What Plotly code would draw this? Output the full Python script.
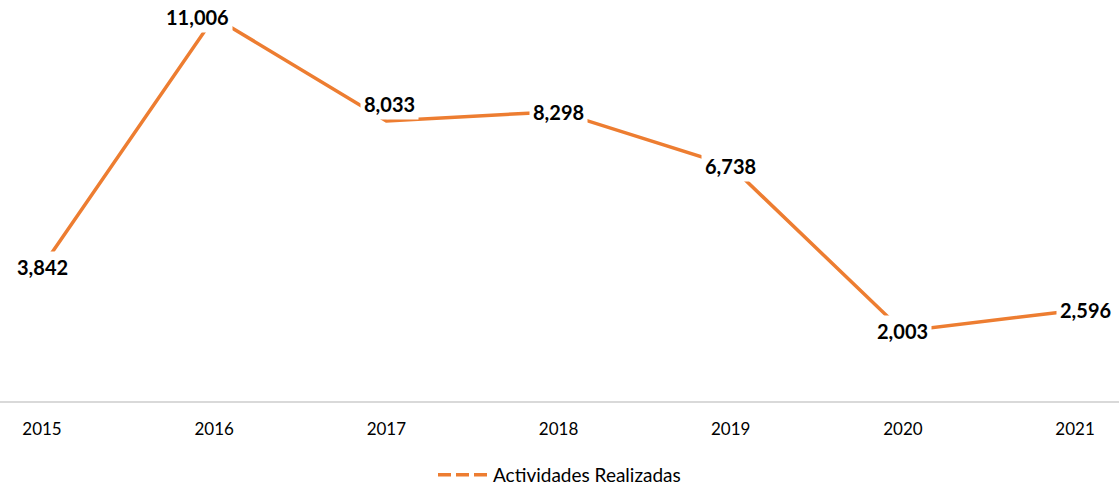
import plotly.graph_objects as go

years = ["2015", "2016", "2017", "2018", "2019", "2020", "2021"]
actividades = [3842, 11006, 8033, 8298, 6738, 2003, 2596]
series_name = "Actividades Realizadas"

ORANGE = "#ED7D31"
FONT = "Lato"

xpos = list(range(len(years)))

# label offsets (style only, in pixels)
label_shift = {"2016": (-17, 0), "2017": (3, 17), "2021": (10, 0)}

fig = go.Figure()
fig.add_trace(go.Scatter(
    x=xpos, y=actividades, mode="lines",
    line=dict(color=ORANGE, width=3.5),
    showlegend=False, hoverinfo="skip",
))
# legend entry (dashed symbol as in the reference)
fig.add_trace(go.Scatter(
    x=[None], y=[None], mode="lines", name=series_name,
    line=dict(color=ORANGE, width=3.5, dash="13px,5px"),
))

for i, (yr, v) in enumerate(zip(years, actividades)):
    dx, dy = label_shift.get(yr, (0, 0))
    fig.add_annotation(
        x=i, y=v, xref="x", yref="y", text=f"<b>{v:,}</b>", showarrow=False,
        xshift=dx, yshift=dy, bgcolor="white", borderpad=3,
        font=dict(family=FONT, size=20, color="black"),
    )

fig.update_layout(
    width=1119, height=489,
    margin=dict(l=0, r=0, t=0, b=88, autoexpand=False),
    paper_bgcolor="white", plot_bgcolor="white",
    font=dict(family=FONT, color="black"),
    xaxis=dict(
        range=[-0.244, 6.255],
        tickvals=xpos, ticktext=years,
        showline=True, linecolor="#D9D9D9", linewidth=2,
        showgrid=False, zeroline=False, ticks="",
        tickfont=dict(size=17, color="black"),
        ticklabelstandoff=12, automargin=False,
    ),
    yaxis=dict(range=[0, 11500], visible=False, showgrid=False, zeroline=False),
    legend=dict(
        orientation="h", x=0.5, xanchor="center",
        yref="container", y=0.029, yanchor="middle",
        font=dict(size=19, color="black"), itemwidth=50,
    ),
)

fig.write_html("out.html", post_script="document.body.style.margin='0';",
               config={"displayModeBar": False})
